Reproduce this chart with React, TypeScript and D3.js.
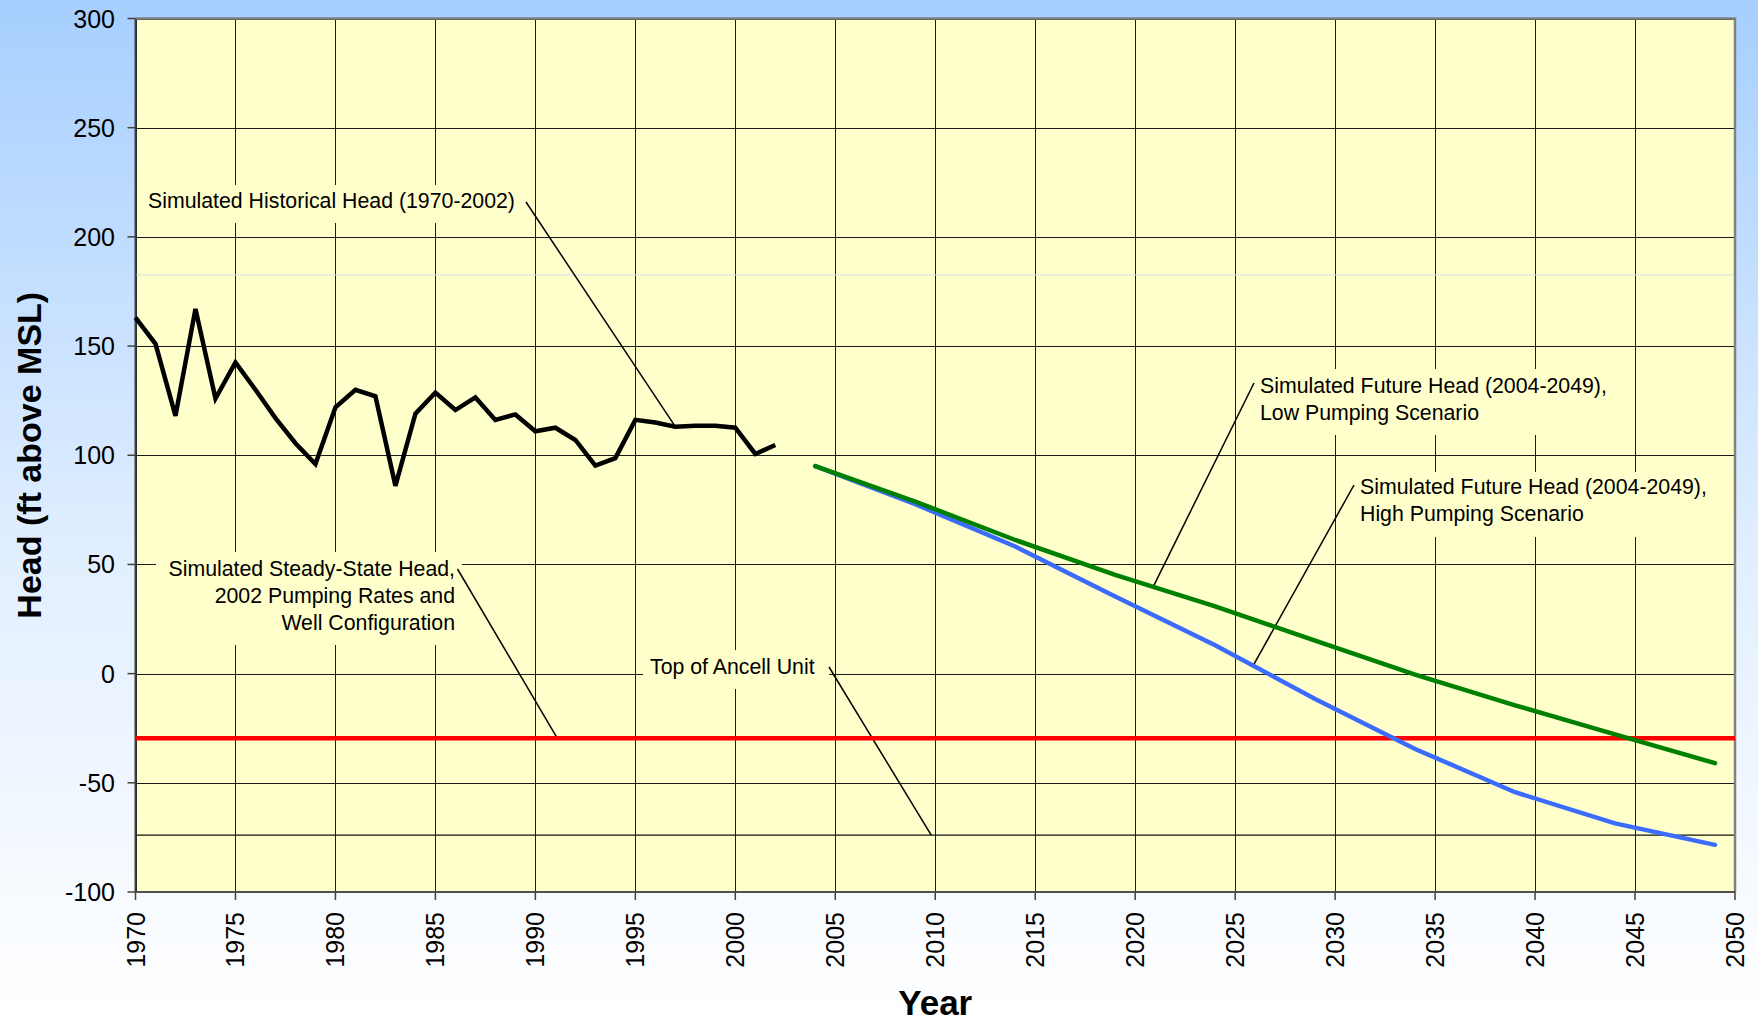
import React from 'react';
import * as d3 from 'd3';

// simulated historical head, 1970-2002 (ft above MSL)
const histYears = [1970, 1971, 1972, 1973, 1974, 1975, 1976, 1977, 1978, 1979, 1980, 1981, 1982, 1983, 1984, 1985, 1986,
    1987, 1988, 1989, 1990, 1991, 1992, 1993, 1994, 1995, 1996, 1997, 1998, 1999, 2000, 2001, 2002];
const histHead = [163, 151, 118, 167, 126, 142.5, 130, 117, 105.5, 96, 122, 130, 127, 86, 119, 128.7, 120.7,
    126.5, 116.2, 118.7, 111, 112.6, 107, 95.3, 98.7, 116.2, 115, 113.1, 113.5, 113.5, 112.6, 100.6, 104.7];

// simulated future head, 2004-2049
const futureYears = [2004, 2009, 2014, 2019, 2024, 2029, 2034, 2039, 2044, 2049];
const lowPumping = [95, 78.8, 61.2, 45.2, 30.8, 15.1, -0.5, -14.5, -27.8, -41];
const highPumping = [95, 77.6, 58.2, 35.3, 13, -11.6, -34.5, -54.3, -68.6, -78.4];

// horizontal reference levels
const steadyStateHead = -29.6;
const topOfAncell = -74;
const faintLevel = 182.6;

const yearTicks = d3.range(1970, 2051, 5);
const headTicks = d3.range(-100, 301, 50);

const W = 1758, H = 1021;
const font = 'Liberation Sans, Arial, sans-serif';

export default function App() {
    const x = d3.scaleLinear().domain([1970, 2050]).range([135.5, 1735]);
    const y = d3.scaleLinear().domain([-100, 300]).range([892, 18.5]);

    const line = d3.line<[number, number]>()
        .x(d => x(d[0]))
        .y(d => y(d[1]));

    const hist = line(histYears.map((yr, i) => [yr, histHead[i]]));
    const low = line(futureYears.map((yr, i) => [yr, lowPumping[i]]));
    const high = line(futureYears.map((yr, i) => [yr, highPumping[i]]));

    const [x0, x1] = x.range();
    const [yb, yt] = y.range();

    const lerp = (ys: number[], xs: number[], t: number) => {
        const i = d3.bisectRight(xs, t) - 1;
        const j = Math.min(i + 1, xs.length - 1);
        const f = xs[j] === xs[i] ? 0 : (t - xs[i]) / (xs[j] - xs[i]);
        return ys[i] + f * (ys[j] - ys[i]);
    };

    // label boxes cover the grid behind the text
    const boxes = [
        {x: 140, y: 185, w: 385, h: 38},
        {x: 156, y: 552, w: 306, h: 93},
        {x: 643, y: 650, w: 186, h: 39},
        {x: 1256, y: 369, w: 362, h: 66},
        {x: 1356, y: 472, w: 370, h: 65},
    ];

    const leaders = [
        {x1: 526, y1: 202, x2: x(1997), y2: y(113.1)},
        {x1: 457.5, y1: 569, x2: x(1991.1), y2: y(steadyStateHead)},
        {x1: 829, y1: 667, x2: x(2009.8), y2: y(topOfAncell)},
        {x1: 1254, y1: 383, x2: x(2020.9), y2: y(lerp(lowPumping, futureYears, 2020.9))},
        {x1: 1354, y1: 485, x2: x(2025.9), y2: y(lerp(highPumping, futureYears, 2025.9))},
    ];

    return (
        <svg width={W} height={H} style={{position: 'absolute', left: 0, top: 0}} fontFamily={font}>
            <defs>
                <linearGradient id="bg" x1="0" y1="0" x2="0" y2="1">
                    <stop offset="0%" stopColor="#a6cfff"/>
                    <stop offset="55%" stopColor="#e2efff"/>
                    <stop offset="100%" stopColor="#ffffff"/>
                </linearGradient>
            </defs>
            <rect width={W} height={H} fill="url(#bg)"/>
            <rect x={x0} y={yt} width={x1 - x0} height={yb - yt} fill="#ffffcc"/>

            {/* grid */}
            {yearTicks.map(t => (
                <line key={'vx' + t} x1={Math.round(x(t)) + 0.5} x2={Math.round(x(t)) + 0.5} y1={yt} y2={yb}
                      stroke="#1a1a1a" strokeWidth={1}/>
            ))}
            {headTicks.map(t => (
                <line key={'hy' + t} x1={x0} x2={x1} y1={Math.round(y(t)) + 0.5} y2={Math.round(y(t)) + 0.5}
                      stroke="#1a1a1a" strokeWidth={1}/>
            ))}
            <line x1={x0} x2={x1} y1={y(faintLevel)} y2={y(faintLevel)} stroke="#cfe0ee" strokeWidth={1}/>
            <line x1={x0} x2={x1} y1={y(topOfAncell)} y2={y(topOfAncell)} stroke="#111" strokeWidth={1.2}/>

            {boxes.map((b, i) => <rect key={'b' + i} x={b.x} y={b.y} width={b.w} height={b.h} fill="#ffffcc"/>)}

            {/* frame */}
            <path d={`M${x0},${yt}H${x1}V${yb}`} fill="none" stroke="#808080" strokeWidth={2.5}/>
            <line x1={x0} x2={x0} y1={yt} y2={yb} stroke="#404040" strokeWidth={2}/>
            <line x1={x0} x2={x1} y1={yb} y2={yb} stroke="#505050" strokeWidth={2}/>

            {/* axes ticks + labels */}
            {headTicks.map(t => (
                <g key={'yt' + t}>
                    <line x1={x0 - 8} x2={x0} y1={y(t)} y2={y(t)} stroke="#404040" strokeWidth={1.5}/>
                    <text x={115} y={y(t)} dy="0.36em" textAnchor="end" fontSize={25} fill="#000">{t}</text>
                </g>
            ))}
            {yearTicks.map(t => (
                <g key={'xt' + t}>
                    <line x1={x(t)} x2={x(t)} y1={yb} y2={yb + 8} stroke="#404040" strokeWidth={1.5}/>
                    <text transform={`translate(${x(t)},${912}) rotate(-90)`} dy="0.36em" textAnchor="end"
                          fontSize={25} fill="#000">{t}</text>
                </g>
            ))}
            <text transform={`translate(41,${(yt + yb) / 2}) rotate(-90)`} textAnchor="middle" fontSize={34}
                  fontWeight="bold" fill="#000">Head (ft above MSL)</text>
            <text x={(x0 + x1) / 2} y={1015} textAnchor="middle" fontSize={35} fontWeight="bold" fill="#000">Year</text>

            {/* annotations */}
            <g fontSize={21.3} fill="#000">
                <text x={148} y={208}>Simulated Historical Head (1970-2002)</text>
                <text x={455} y={576} textAnchor="end">Simulated Steady-State Head,</text>
                <text x={455} y={603} textAnchor="end">2002 Pumping Rates and</text>
                <text x={455} y={630} textAnchor="end">Well Configuration</text>
                <text x={650} y={674}>Top of Ancell Unit</text>
                <text x={1260} y={393}>Simulated Future Head (2004-2049),</text>
                <text x={1260} y={420}>Low Pumping Scenario</text>
                <text x={1360} y={494}>Simulated Future Head (2004-2049),</text>
                <text x={1360} y={521}>High Pumping Scenario</text>
            </g>
            {leaders.map((l, i) => (
                <line key={'l' + i} x1={l.x1} y1={l.y1} x2={l.x2} y2={l.y2} stroke="#000" strokeWidth={1.5}/>
            ))}

            {/* series */}
            <line x1={x0} x2={x1} y1={y(steadyStateHead)} y2={y(steadyStateHead)} stroke="#ff0000" strokeWidth={4.5}/>
            <path d={high || ''} fill="none" stroke="#3c6cff" strokeWidth={4.5} strokeLinecap="round"/>
            <path d={low || ''} fill="none" stroke="#008000" strokeWidth={4.5} strokeLinecap="round"/>
            <path d={hist || ''} fill="none" stroke="#000" strokeWidth={4.5}/>
        </svg>
    );
}
